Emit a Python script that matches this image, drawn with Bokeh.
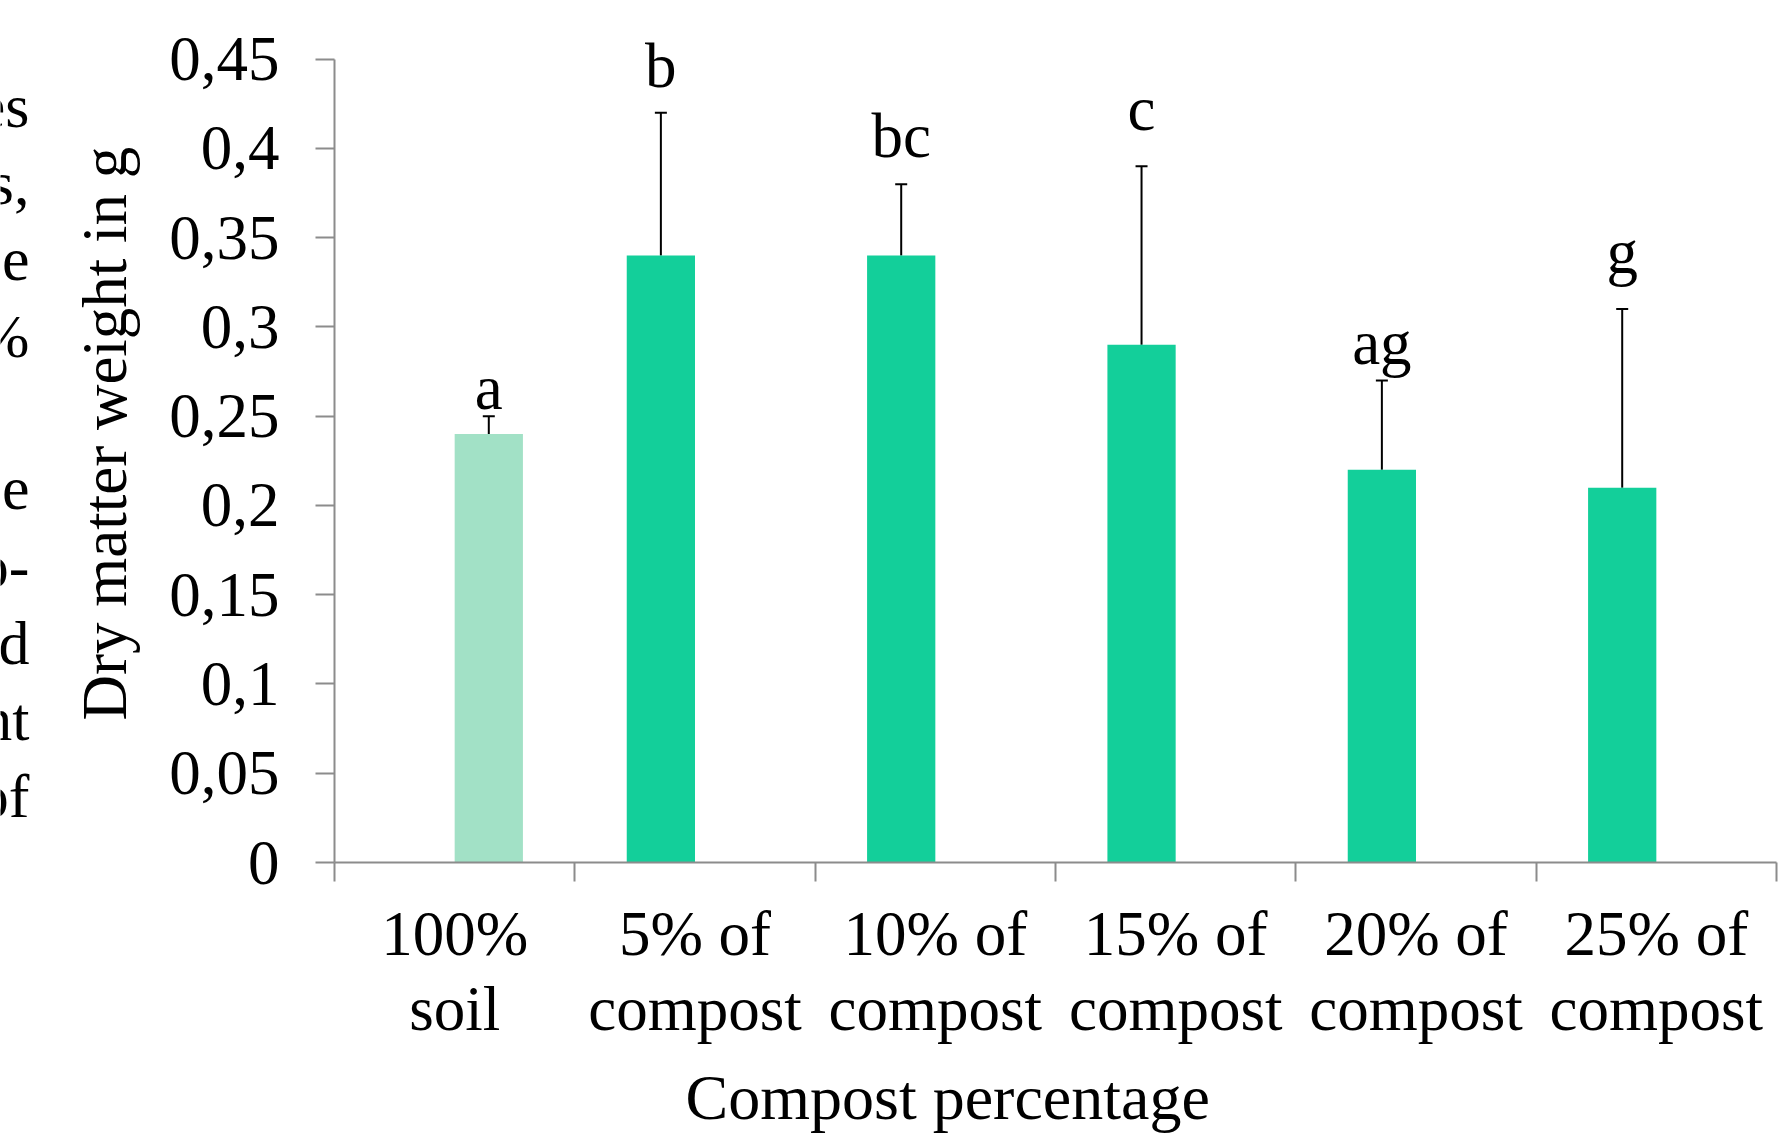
from bokeh.plotting import figure
from bokeh.layouts import row
from bokeh.models import Range1d, FixedTicker, Whisker, TeeHead, ColumnDataSource, Title
from bokeh.embed import file_html
from bokeh.resources import INLINE
from bokeh.core.properties import value

# ---------------- data ----------------
categories = ["100%\nsoil", "5% of\ncompost", "10% of\ncompost",
              "15% of\ncompost", "20% of\ncompost", "25% of\ncompost"]
soil_series = [0.24, 0, 0, 0, 0, 0]
compost_series = [0, 0.34, 0.34, 0.29, 0.22, 0.21]
error_up = [0.01, 0.08, 0.04, 0.10, 0.05, 0.10]
letters = ["a", "b", "bc", "c", "ag", "g"]
y_ticks = [0, 0.05, 0.1, 0.15, 0.2, 0.25, 0.3, 0.35, 0.4, 0.45]
y_tick_labels = ["0", "0,05", "0,1", "0,15", "0,2", "0,25", "0,3", "0,35", "0,4", "0,45"]
x_title = "Compost percentage"
y_title = "Dry matter weight in g"
side_text = ["es", "s,", "e", "%", "", "e", "o-", "d", "nt", "of"]

# ---------------- layout / style ----------------
FONT = "Liberation Serif"
TOTAL_W, H = 1784, 1145
SW = 40                      # strip holding the cut-off neighbouring text
W = TOTAL_W - SW
FRAME_TOP, FRAME_BOTTOM = 23, 864
L, R, T, B = 334 - SW, 8, FRAME_TOP, H - FRAME_BOTTOM
Y_TOP = 0.47                 # headroom so letters above 0,45 are not clipped
AXIS_GRAY = "#8c8c8c"
DARK = "#13CF9A"
LIGHT = "#A2E1C6"
BAR_W = 0.284
OFF = 0.142
letter_gap = [0.016, 0.026, 0.027, 0.032, 0.021, 0.032]

n = len(categories)
centers = [i + 0.5 for i in range(n)]
x_comp = [c - OFF for c in centers]
x_soil = [c + OFF for c in centers]

p = figure(width=W, height=H, output_backend="svg", toolbar_location=None,
           x_range=Range1d(0, n), y_range=Range1d(0, Y_TOP),
           min_border_left=L, min_border_right=R, min_border_top=T, min_border_bottom=B,
           background_fill_color="white", border_fill_color="white")
p.outline_line_color = None
p.grid.visible = False

p.vbar(x=x_comp, top=compost_series, width=BAR_W, fill_color=DARK, line_color=None)
p.vbar(x=x_soil, top=soil_series, width=BAR_W, fill_color=LIGHT, line_color=None)

# error bars (upper only)
base = [xs if s > 0 else xc for xs, xc, s in zip(x_soil, x_comp, soil_series)]
lo = [max(s, c) for s, c in zip(soil_series, compost_series)]
hi = [v + e for v, e in zip(lo, error_up)]
src = ColumnDataSource(dict(base=base, lo=lo, hi=hi))
p.add_layout(Whisker(source=src, base="base", lower="lo", upper="hi", dimension="height",
                     line_color="black", line_width=2, lower_head=None,
                     upper_head=TeeHead(size=12, line_color="black", line_width=2)))

# significance letters
p.text(x=base, y=[h + g for h, g in zip(hi, letter_gap)], text=letters,
       text_font=value(FONT), text_font_size="63px", text_align="center",
       text_baseline="alphabetic", text_color="black")

# y axis
ya = p.yaxis[0]
ya.ticker = FixedTicker(ticks=y_ticks, minor_ticks=[])
ya.bounds = (y_ticks[0], y_ticks[-1])
ya.major_label_overrides = {t: lab for t, lab in zip(y_ticks, y_tick_labels)}
ya.axis_line_color = AXIS_GRAY
ya.axis_line_width = 2
ya.major_tick_line_color = AXIS_GRAY
ya.major_tick_line_width = 2
ya.major_tick_out = 19
ya.major_tick_in = 0
ya.major_label_standoff = 36
ya.major_label_text_font = FONT
ya.major_label_text_font_size = "63px"
ya.major_label_text_color = "black"

# x axis
xa = p.xaxis[0]
xa.ticker = FixedTicker(ticks=centers, minor_ticks=list(range(n + 1)))
xa.major_label_overrides = {c: lab for c, lab in zip(centers, categories)}
xa.axis_line_color = AXIS_GRAY
xa.axis_line_width = 2
xa.major_tick_line_color = None
xa.major_tick_out = 0
xa.major_tick_in = 0
xa.minor_tick_line_color = AXIS_GRAY
xa.minor_tick_line_width = 2
xa.minor_tick_out = 19
xa.minor_tick_in = 0
xa.major_label_standoff = 17
xa.major_label_text_font = FONT
xa.major_label_text_font_size = "63px"
xa.major_label_text_line_height = 1.08
xa.major_label_text_color = "black"
xa.major_label_orientation = "horizontal"

# axis titles (side titles so they can be shifted along the axis)
p.add_layout(Title(text=x_title, align="left", offset=351, standoff=25,
                   text_font=FONT, text_font_size="64px", text_font_style="normal",
                   text_color="black"), "below")
p.add_layout(Title(text=y_title, align="left", offset=142, standoff=53,
                   text_font=FONT, text_font_size="63px", text_font_style="normal",
                   text_color="black"), "left")

# strip with the cut-off text of the neighbouring column (its frame is aligned with the main one)
side = figure(width=SW, height=H, output_backend="svg", toolbar_location=None,
              x_range=Range1d(0, SW), y_range=Range1d(FRAME_BOTTOM, FRAME_TOP),
              min_border=0, x_axis_location=None, y_axis_location=None,
              background_fill_color="white", border_fill_color="white")
side.outline_line_color = None
side.grid.visible = False
sx_, sy_, st_ = [], [], []
for k, t in enumerate(side_text):
    if t:
        sx_.append(29)
        sy_.append(119 + 76.8 * k - 13)
        st_.append(t)
side.text(x=sx_, y=sy_, text=st_, text_font=value(FONT), text_font_size="62px",
          text_align="right", text_baseline="alphabetic", text_color="black")

layout = row(side, p, spacing=0)
open("out.html", "w").write(file_html(layout, INLINE, title="Dry matter weight"))
